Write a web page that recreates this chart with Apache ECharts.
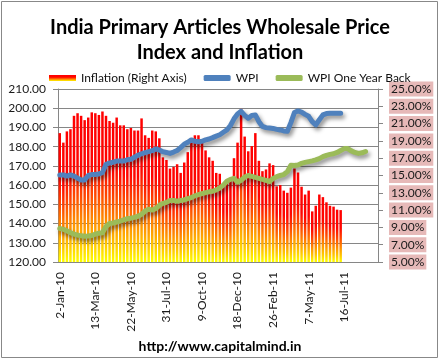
<!DOCTYPE html>
<html><head><meta charset="utf-8">
<script src="https://cdn.jsdelivr.net/npm/echarts@6/dist/echarts.min.js"></script>
<style>html,body{margin:0;padding:0;background:#fff}#c{width:440px;height:362px}</style>
</head><body><div id="c"></div>
<script>
const categories = ['2-Jan-10','9-Jan-10','16-Jan-10','23-Jan-10','30-Jan-10','6-Feb-10','13-Feb-10','20-Feb-10','27-Feb-10','6-Mar-10','13-Mar-10','20-Mar-10','27-Mar-10','3-Apr-10','10-Apr-10','17-Apr-10','24-Apr-10','1-May-10','8-May-10','15-May-10','22-May-10','29-May-10','5-Jun-10','12-Jun-10','19-Jun-10','26-Jun-10','3-Jul-10','10-Jul-10','17-Jul-10','24-Jul-10','31-Jul-10','7-Aug-10','14-Aug-10','21-Aug-10','28-Aug-10','4-Sep-10','11-Sep-10','18-Sep-10','25-Sep-10','2-Oct-10','9-Oct-10','16-Oct-10','23-Oct-10','30-Oct-10','6-Nov-10','13-Nov-10','20-Nov-10','27-Nov-10','4-Dec-10','11-Dec-10','18-Dec-10','25-Dec-10','1-Jan-11','8-Jan-11','15-Jan-11','22-Jan-11','29-Jan-11','5-Feb-11','12-Feb-11','19-Feb-11','26-Feb-11','5-Mar-11','12-Mar-11','19-Mar-11','26-Mar-11','2-Apr-11','9-Apr-11','16-Apr-11','23-Apr-11','30-Apr-11','7-May-11','14-May-11','21-May-11','28-May-11','4-Jun-11','11-Jun-11','18-Jun-11','25-Jun-11','2-Jul-11','9-Jul-11','16-Jul-11','23-Jul-11','30-Jul-11','6-Aug-11','13-Aug-11','20-Aug-11','27-Aug-11','3-Sep-11','10-Sep-11','17-Sep-11'];

// Inflation (%), right axis
const inflation = [19.9,18.8,20.1,20.35,21.9,22.2,21.9,21.4,21.7,22.3,
22.2,22.0,22.4,21.9,21.3,21.1,21.7,20.8,20.8,20.35,
20.5,20.2,20.2,21.6,19.65,19.35,20.2,20.1,19.3,17.1,
16.8,15.8,16.0,16.3,15.3,16.5,17.7,18.8,19.65,19.65,
18.9,17.9,17.1,16.7,15.3,15.2,14.0,14.1,14.6,17.0,
18.8,22.7,19.5,17.8,18.4,19.9,16.7,15.5,15.7,16.4,
16.2,13.75,13.9,13.25,13.0,13.6,15.8,15.35,13.7,12.8,
13.25,10.85,11.5,12.8,12.5,11.9,11.5,11.4,11.05,11.0];

// WPI, left axis
const wpi = [165.3,165.3,164.7,165.3,164.7,163.6,162.7,162.7,165.0,165.5,
165.5,165.8,166.5,170.8,171.5,171.9,172.5,172.5,172.5,173.2,
173.4,174.5,175.5,176.3,176.9,177.4,177.9,178.8,178.3,177.4,
177.0,176.5,177.2,178.0,179.5,181.3,182.3,183.5,182.8,182.6,
182.8,183.5,184.0,184.7,185.5,186.2,187.5,188.7,191.0,194.5,
197.0,198.4,196.3,194.8,196.2,196.5,193.0,190.5,189.9,189.7,
189.5,189.0,188.7,188.2,188.0,192.5,197.8,198.6,198.0,196.8,
195.8,193.0,191.3,194.0,196.5,197.2,197.4,197.4,197.4,197.4];

// WPI One Year Back, left axis
const wpiYearBack = [137.5,137.0,136.2,135.2,134.5,134.0,133.6,133.4,133.5,133.8,
134.5,135.0,135.2,138.5,140.0,140.3,140.8,141.3,141.9,142.5,
142.8,143.2,143.8,144.8,146.5,147.5,147.0,147.8,149.5,150.5,
151.0,152.0,152.0,151.6,152.0,152.3,153.0,153.5,154.4,155.0,
155.6,156.1,156.5,156.8,157.5,158.5,160.0,162.0,163.0,163.5,
161.5,162.5,164.2,165.0,164.5,164.0,163.5,163.0,162.5,161.8,
163.5,164.4,165.0,165.5,167.0,170.3,170.2,170.5,171.3,171.8,
172.2,172.6,173.1,173.8,174.8,175.5,176.0,176.3,177.0,178.0,
179.0,179.0,177.8,177.0,176.5,176.8,177.5];

const leftTicks = {min: 120, max: 210, interval: 10};
const rightTicks = {min: 5, max: 25, interval: 2};
const seriesNames = ['Inflation (Right Axis)', 'WPI', 'WPI One Year Back'];
const titleText = 'India Primary Articles Wholesale Price\nIndex and Inflation';
const footerText = 'http://www.capitalmind.in';

const FONT = 'Lato';
const chart = echarts.init(document.getElementById('c'), null, {renderer: 'canvas'});
const barGrad = new echarts.graphic.LinearGradient(0, 0, 0, 1, [
  {offset: 0, color: '#ff0000'},
  {offset: 0.35, color: '#ff0500'},
  {offset: 0.55, color: '#ff4a00'},
  {offset: 0.72, color: '#ff8c00'},
  {offset: 0.87, color: '#ffc400'},
  {offset: 1, color: '#ffff00'}
]);
const shadow = {shadowColor: 'rgba(0,0,0,0.45)', shadowBlur: 4, shadowOffsetX: 2, shadowOffsetY: 3};

chart.setOption({
  animation: false,
  backgroundColor: '#fff',
  title: {
    text: titleText, left: 'center', top: 10,
    textStyle: {fontFamily: FONT, fontSize: 20, fontWeight: 'bold', color: '#000', lineHeight: 25}
  },
  legend: {
    left: 44, top: 67, itemGap: 17, itemWidth: 27, itemHeight: 6,
    textStyle: {fontFamily: FONT, fontSize: 12, color: '#111'},
    data: [
      {name: seriesNames[0], icon: 'rect'},
      {name: seriesNames[1], icon: 'roundRect'},
      {name: seriesNames[2], icon: 'roundRect'}
    ]
  },
  grid: {left: 58, right: 62, top: 89, bottom: 100, containLabel: false},
  xAxis: {
    type: 'category', data: categories, boundaryGap: true,
    axisLine: {lineStyle: {color: '#868686'}},
    axisTick: {interval: 4, length: 5, lineStyle: {color: '#868686'}},
    axisLabel: {interval: 9, rotate: 90, margin: 10, fontFamily: FONT, fontSize: 12, color: '#1a1a1a'}
  },
  yAxis: [
    {
      type: 'value', min: leftTicks.min, max: leftTicks.max, interval: leftTicks.interval,
      axisLine: {show: true, lineStyle: {color: '#868686'}},
      axisTick: {show: true, length: 5, lineStyle: {color: '#868686'}},
      splitLine: {show: true, lineStyle: {color: '#868686', width: 1}},
      axisLabel: {margin: 12, fontFamily: FONT, fontSize: 12, color: '#1a1a1a', formatter: v => v.toFixed(2)}
    },
    {
      type: 'value', position: 'right', min: rightTicks.min, max: rightTicks.max, interval: rightTicks.interval,
      axisLine: {show: true, lineStyle: {color: '#868686'}},
      axisTick: {show: true, length: 5, lineStyle: {color: '#868686'}},
      splitLine: {show: false},
      axisLabel: {margin: 11, fontFamily: FONT, fontSize: 12, color: '#1a1a1a',
        backgroundColor: '#e6b9b8', padding: [2, 2, 1, 2], formatter: v => v.toFixed(2) + '%'}
    }
  ],
  series: [
    {name: seriesNames[0], type: 'bar', yAxisIndex: 1, data: inflation, barCategoryGap: '30%',
     itemStyle: {color: barGrad}},
    {name: seriesNames[1], type: 'line', yAxisIndex: 0, data: wpi, symbol: 'none', smooth: false,
     color: '#4f81bd', lineStyle: Object.assign({width: 5, color: '#4f81bd', cap: 'round', join: 'round'}, shadow)},
    {name: seriesNames[2], type: 'line', yAxisIndex: 0, data: wpiYearBack, symbol: 'none', smooth: false,
     color: '#9bbb59', lineStyle: Object.assign({width: 5, color: '#9bbb59', cap: 'round', join: 'round'}, shadow)}
  ],
  graphic: [
    {type: 'rect', shape: {x: 1.5, y: 1.5, width: 436, height: 356}, style: {fill: 'none', stroke: '#888', lineWidth: 1}, silent: true, z: 100},
    {type: 'text', left: 'center', top: 339, style: {text: footerText, font: 'bold 14px ' + FONT, fill: '#000'}}
  ]
});
</script></body></html>
